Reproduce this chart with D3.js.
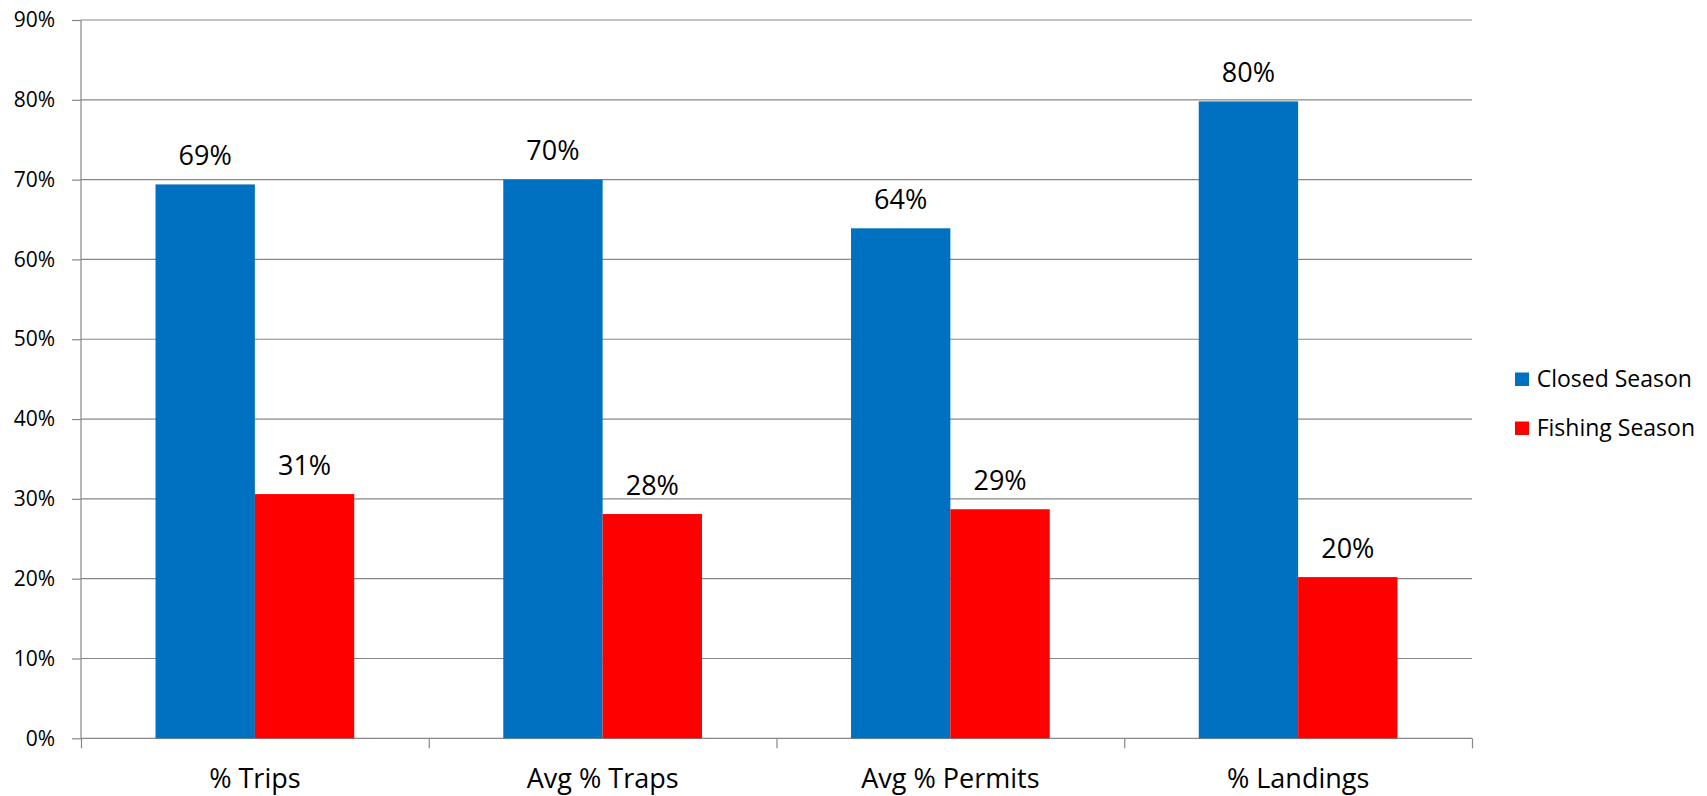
<!DOCTYPE html>
<html>
<head>
<meta charset="utf-8">
<script src="https://cdn.jsdelivr.net/npm/d3@7"></script>
<style>
  html, body { margin: 0; padding: 0; background: #ffffff; }
  svg { display: block; }
  text { font-family: "Open Sans", "Noto Sans", sans-serif; fill: #000; }
</style>
</head>
<body>
<svg id="chart" width="1707" height="796"></svg>
<script>
const categories = ["% Trips", "Avg % Traps", "Avg % Permits", "% Landings"];
const seriesNames = ["Closed Season", "Fishing Season"];
const closedSeason = [0.694, 0.700, 0.639, 0.798];
const fishingSeason = [0.306, 0.281, 0.287, 0.202];
const yTicks = [0, 0.1, 0.2, 0.3, 0.4, 0.5, 0.6, 0.7, 0.8, 0.9];
const seriesColors = ["#0070C0", "#FF0000"];

(function () {
const svg = d3.select("#chart");
const plotLeft = 81, plotRight = 1472, plotTop = 20, plotBottom = 738.3;
const gridColor = "#878787";

const x0 = d3.scaleBand().domain(categories).range([plotLeft, plotRight]).paddingInner(0).paddingOuter(0);
const x1 = d3.scaleBand().domain(seriesNames).range([0, x0.bandwidth()]).paddingInner(0).paddingOuter(0.75);
const y = d3.scaleLinear().domain([0, 0.9]).range([plotBottom, plotTop]);
const xEdges = d3.scaleLinear().domain([0, categories.length]).range([plotLeft, plotRight]);

// gridlines
svg.append("g").selectAll("line").data(yTicks).join("line")
  .attr("x1", plotLeft).attr("x2", plotRight)
  .attr("y1", d => y(d)).attr("y2", d => y(d))
  .attr("stroke", gridColor).attr("stroke-width", 1.2);

// y axis
const yAxis = svg.append("g").attr("transform", `translate(${plotLeft},0)`)
  .call(d3.axisLeft(y).tickValues(yTicks).tickSize(9).tickPadding(17).tickFormat(d3.format(".0%")));
yAxis.select(".domain").remove();
yAxis.selectAll(".tick line").attr("stroke", gridColor).attr("stroke-width", 1.2);
yAxis.selectAll(".tick text").attr("font-size", "21px").attr("font-family", "Open Sans").attr("fill", "#000");
svg.append("line").attr("x1", plotLeft).attr("x2", plotLeft).attr("y1", plotTop).attr("y2", plotBottom)
  .attr("stroke", gridColor).attr("stroke-width", 1.2);

// x axis ticks at category boundaries
const xTickAxis = svg.append("g").attr("transform", `translate(0,${plotBottom})`)
  .call(d3.axisBottom(xEdges).tickValues(d3.range(categories.length + 1)).tickSize(10).tickFormat(""));
xTickAxis.select(".domain").remove();
xTickAxis.selectAll(".tick line").attr("stroke", gridColor).attr("stroke-width", 1.2);

// category labels
const xLabelAxis = svg.append("g").attr("transform", `translate(0,${plotBottom})`)
  .call(d3.axisBottom(x0).tickSize(0).tickPadding(0));
xLabelAxis.select(".domain").remove();
xLabelAxis.selectAll(".tick text")
  .attr("font-size", "27px").attr("font-family", "Open Sans").attr("fill", "#000")
  .attr("dy", null).attr("y", 788 - plotBottom);

// bars
const rows = categories.map((c, i) => ({ cat: c, vals: [closedSeason[i], fishingSeason[i]] }));
const groups = svg.append("g").selectAll("g").data(rows).join("g")
  .attr("transform", d => `translate(${x0(d.cat)},0)`);
groups.selectAll("rect").data(d => d.vals.map((v, j) => ({ name: seriesNames[j], v, j })))
  .join("rect")
  .attr("x", d => x1(d.name))
  .attr("width", x1.bandwidth())
  .attr("y", d => y(d.v))
  .attr("height", d => y(0) - y(d.v))
  .attr("fill", d => seriesColors[d.j]);

// data labels
groups.selectAll("text").data(d => d.vals.map((v, j) => ({ name: seriesNames[j], v, j })))
  .join("text")
  .attr("x", d => x1(d.name) + x1.bandwidth() / 2)
  .attr("y", d => y(d.v) - 19.5)
  .attr("text-anchor", "middle")
  .attr("font-size", "27px")
  .text(d => d3.format(".0%")(d.v));

// legend
const legend = svg.append("g").selectAll("g").data(seriesNames).join("g")
  .attr("transform", (d, i) => `translate(1515,${379.3 + i * 49})`);
legend.append("rect").attr("x", 0).attr("y", -6.8).attr("width", 14).attr("height", 13.5)
  .attr("fill", (d, i) => seriesColors[i]);
legend.append("text").attr("x", 21.7).attr("y", 8).attr("font-size", "23px").text(d => d);
})();
</script>
</body>
</html>
